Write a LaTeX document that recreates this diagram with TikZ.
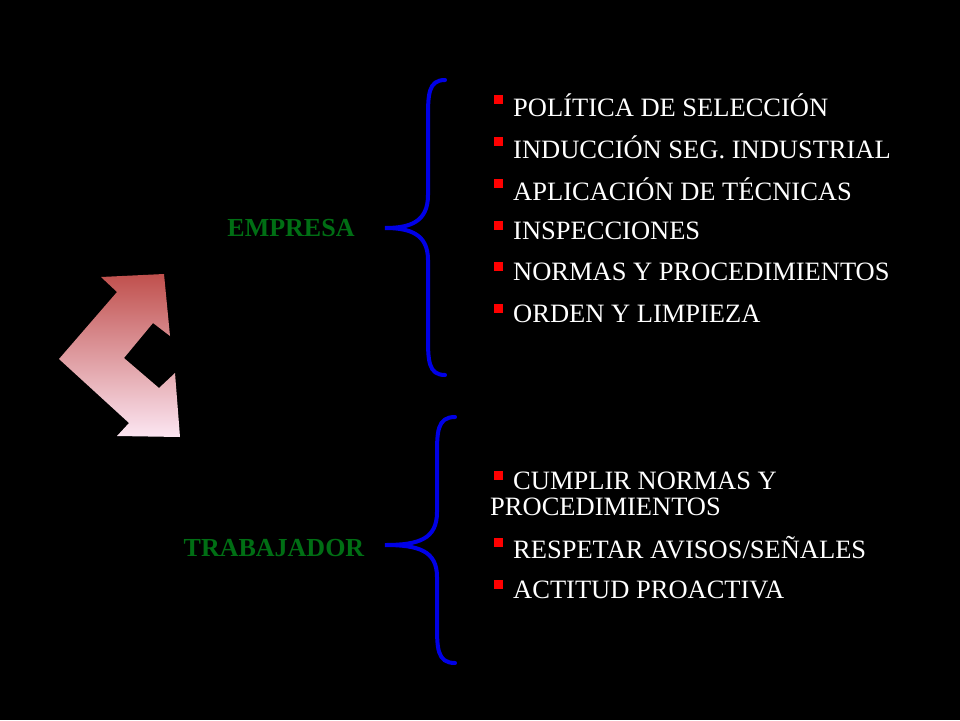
\documentclass[tikz,border=0pt]{standalone}
\usepackage{fontspec}
\setmainfont{Liberation Serif}
\begin{document}
\begin{tikzpicture}[x=1pt,y=-1pt,
  txt/.style={anchor=west,font=\fontsize{26.5}{30}\selectfont,text=white,inner sep=0pt},
  lbl/.style={font=\fontsize{26}{30}\selectfont\bfseries,text={rgb,255:red,0;green,110;blue,20},inner sep=0pt},
  bul/.style={fill=red,minimum size=9pt,inner sep=0pt},
  brace/.style={draw={rgb,255:red,0;green,0;blue,230},line width=4pt,line cap=round}]
\fill[black] (0,0) rectangle (960,720);
\shade[top color={rgb,255:red,192;green,80;blue,77},bottom color={rgb,255:red,252;green,230;blue,242}]
 (101,277) -- (164,274) -- (170,336) -- (153,323) -- (124,358) -- (159,388) -- (175,373) -- (180,437) -- (117,436) -- (129,423) -- (59,359) -- (117,292) -- cycle;
% braces
\coordinate (t1) at (445,80); \coordinate (m1) at (385,228); \coordinate (b1) at (445,375);
\draw[brace] (t1) .. controls (428,80) and (428,95) .. (428,120) -- (428,195) .. controls (428,222) and (410,228) .. (m1)
  .. controls (410,228) and (428,234) .. (428,260) -- (428,335) .. controls (428,360) and (428,375) .. (b1);
\coordinate (t2) at (455,417); \coordinate (m2) at (385,545); \coordinate (b2) at (455,663);
\draw[brace] (t2) .. controls (437,417) and (437,432) .. (437,457) -- (437,512) .. controls (437,539) and (419,545) .. (m2)
  .. controls (419,545) and (437,551) .. (437,577) -- (437,623) .. controls (437,648) and (437,663) .. (b2);
\node[lbl] (emp) at (291,228) {EMPRESA};
\node[lbl] (trab) at (274,548) {TRABAJADOR};
\foreach \y/\t/\i in {105/{POLÍTICA DE SELECCIÓN}/a, 147/{INDUCCIÓN SEG. INDUSTRIAL}/b, 189/{APLICACIÓN DE TÉCNICAS}/c, 231/{INSPECCIONES}/d, 272/{NORMAS Y PROCEDIMIENTOS}/e, 314/{ORDEN Y LIMPIEZA}/f, 548/{RESPETAR AVISOS/SEÑALES}/h, 590/{ACTITUD PROACTIVA}/i}{
  \node[bul] (s\i) at (498,\y-6) {};
  \node[txt] (x\i) at (513,\y) {\t};
}
\node[bul] (sg) at (498,475) {};
\node[txt] (xg) at (513,481) {CUMPLIR NORMAS Y};
\node[txt] (xg2) at (490,507) {PROCEDIMIENTOS};
\end{tikzpicture}
\end{document}
